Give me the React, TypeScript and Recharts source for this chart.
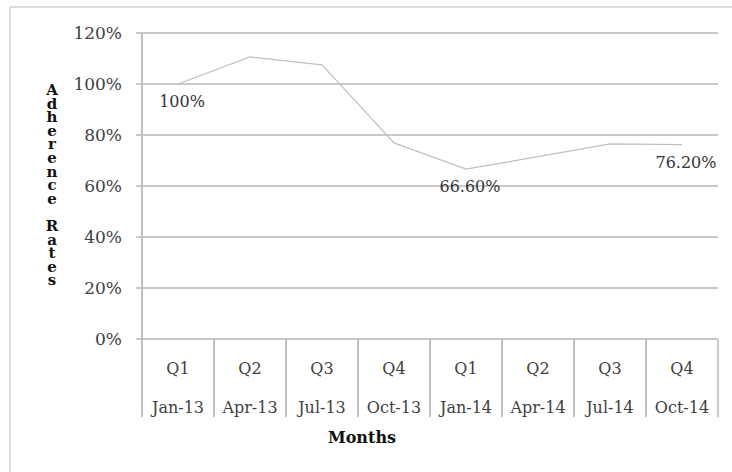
import React from "react";
import {
  LineChart,
  Line,
  XAxis,
  YAxis,
  CartesianGrid,
  LabelList,
  Label,
} from "recharts";

// Quarterly adherence, Jan-13 through Oct-14
const quarters = ["Q1", "Q2", "Q3", "Q4", "Q1", "Q2", "Q3", "Q4"];
const months = ["Jan-13", "Apr-13", "Jul-13", "Oct-13", "Jan-14", "Apr-14", "Jul-14", "Oct-14"];
const adherence = [100, 110.6, 107.5, 76.9, 66.6, 71.5, 76.5, 76.2];
// Value labels shown on the line (index -> text)
const labelledPoints: Record<number, string> = { 0: "100%", 4: "66.60%", 7: "76.20%" };
const yTicks = [0, 20, 40, 60, 80, 100, 120];
const yTitle = "Adherence Rates";
const xTitle = "Months";

const data = months.map((m, i) => ({ key: m, quarter: quarters[i], month: m, value: adherence[i] }));

const W = 732;
const H = 472;
const MARGIN = { top: 33, right: 14, left: 0, bottom: 23 };
const Y_AXIS_W = 142;
const X_AXIS_H = 110;
const PLOT_W = W - MARGIN.left - MARGIN.right - Y_AXIS_W;
const HALF_BAND = PLOT_W / months.length / 2;
const DIVIDER_LEN = 78;

const SERIF = "'DejaVu Serif', 'Liberation Serif', serif";
const GRID = "#c9c9c9";
const AXIS = "#ababab";

const XTick = (props: any) => {
  const { x, y, payload, index } = props;
  const d = data[index] || data.find((r) => r.key === payload.value);
  const left = x - HALF_BAND;
  const right = x + HALF_BAND;
  return (
    <g>
      <line x1={left} y1={y} x2={left} y2={y + DIVIDER_LEN} stroke={AXIS} strokeWidth={1.5} />
      {index === months.length - 1 && (
        <line x1={right} y1={y} x2={right} y2={y + DIVIDER_LEN} stroke={GRID} strokeWidth={2} />
      )}
      <text x={x} y={y + 35} textAnchor="middle" fontFamily={SERIF} fontSize={16} fill="#404040">
        {d ? d.quarter : ""}
      </text>
      <text x={x} y={y + 74} textAnchor="middle" fontFamily={SERIF} fontSize={16} fill="#404040">
        {d ? d.month : payload.value}
      </text>
    </g>
  );
};

const YTitle = (props: any) => {
  const { viewBox } = props;
  const cx = 52;
  const top = viewBox.y + 62;
  const chars = yTitle.split("");
  return (
    <text x={cx} y={top} textAnchor="middle" fontFamily={SERIF} fontSize={15} fontWeight="bold" fill="#111">
      {chars.map((c, i) => (
        <tspan key={i} x={cx} y={top + i * 13.6}>
          {c === " " ? "\u00a0" : c}
        </tspan>
      ))}
    </text>
  );
};

const PointLabel = (props: any) => {
  const { x, y, index } = props;
  const text = labelledPoints[index];
  if (!text) return null;
  return (
    <text x={x + 4} y={y + 23} textAnchor="middle" fontFamily={SERIF} fontSize={16} fill="#333">
      {text}
    </text>
  );
};

export default function App() {
  return (
    <div style={{ position: "absolute", left: 0, top: 0, width: W, height: H, background: "#fff" }}>
      <svg width={W} height={H} style={{ position: "absolute", left: 0, top: 0 }}>
        <line x1={10} y1={7} x2={W} y2={7} stroke="#dcdcdc" strokeWidth={2} />
        <line x1={10} y1={7} x2={10} y2={H} stroke="#dcdcdc" strokeWidth={2} />
      </svg>
      <div style={{ position: "absolute", left: 0, top: 0 }}>
        <LineChart width={W} height={H} data={data} margin={MARGIN}>
          <CartesianGrid horizontal vertical={false} stroke={GRID} strokeWidth={2} />
          <XAxis
            dataKey="key"
            scale="band"
            height={X_AXIS_H}
            axisLine={{ stroke: GRID, strokeWidth: 2 }}
            tickLine={false}
            tickSize={0}
            tickMargin={0}
            interval={0}
            tick={<XTick />}
          >
            <Label
              value={xTitle}
              position="insideBottom"
              dx={-68}
              offset={6}
              style={{ fontFamily: SERIF, fontSize: 16, fontWeight: "bold", fill: "#111" }}
            />
          </XAxis>
          <YAxis
            width={Y_AXIS_W}
            domain={[0, 120]}
            ticks={yTicks}
            interval={0}
            tickFormatter={(v: number) => `${v}%`}
            axisLine={{ stroke: AXIS, strokeWidth: 1.5 }}
            tickLine={{ stroke: GRID, strokeWidth: 2 }}
            tickSize={6}
            tickMargin={14}
            tick={{ fontFamily: SERIF, fontSize: 17, fill: "#404040" }}
          >
            <Label content={<YTitle />} />
          </YAxis>
          <Line
            type="linear"
            dataKey="value"
            stroke="#c0c0c0"
            strokeWidth={1.2}
            dot={false}
            activeDot={false}
            isAnimationActive={false}
          >
            <LabelList dataKey="value" content={<PointLabel />} />
          </Line>
        </LineChart>
      </div>
    </div>
  );
}
